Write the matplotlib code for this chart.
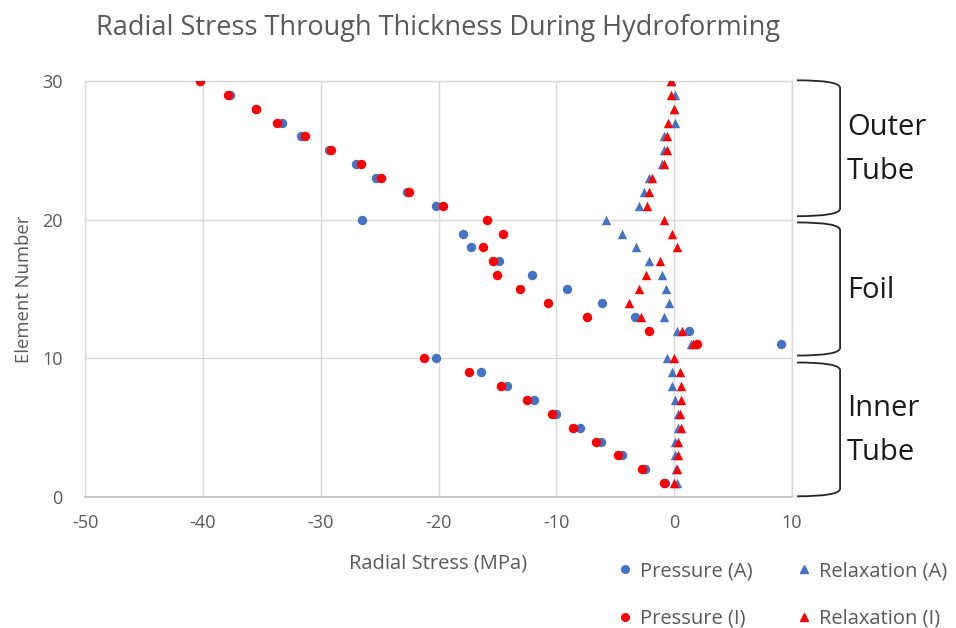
import matplotlib
matplotlib.use("Agg")
import matplotlib.pyplot as plt
import matplotlib.transforms as mtransforms
from matplotlib.path import Path
from matplotlib.patches import PathPatch
from matplotlib.lines import Line2D

plt.rcParams['font.family'] = ['Open Sans', 'DejaVu Sans']
plt.rcParams['axes.unicode_minus'] = False

# Element numbers through the wall thickness
elements = list(range(1, 31))

# Radial stress (MPa) at each element
pressure_a = [-0.8, -2.5, -4.4, -6.2, -8.0, -10.0, -11.9, -14.2, -16.4, -20.2,
              9.1, 1.3, -3.3, -6.1, -9.1, -12.1, -14.9, -17.2, -17.9, -26.5,
              -20.2, -22.7, -25.3, -27.0, -29.3, -31.7, -33.3, -35.5, -37.7, -40.2]
pressure_i = [-0.9, -2.7, -4.8, -6.6, -8.6, -10.4, -12.5, -14.7, -17.4, -21.2,
              1.9, -2.1, -7.4, -10.7, -13.1, -15.0, -15.4, -16.2, -14.5, -15.9,
              -19.6, -22.5, -24.9, -26.6, -29.1, -31.3, -33.7, -35.5, -37.9, -40.2]
relax_a = [0.2, 0.15, 0.05, 0.05, 0.35, 0.3, 0.05, -0.15, -0.15, -0.6,
           1.4, 0.2, -0.9, -0.45, -0.7, -1.0, -2.15, -3.25, -4.4, -5.8,
           -3.0, -2.6, -2.15, -1.0, -0.85, -0.9, 0.05, 0.0, 0.1, -0.3]
relax_i = [0.0, 0.2, 0.35, 0.3, 0.55, 0.5, 0.55, 0.55, 0.5, 0.0,
           1.6, 0.7, -2.85, -3.8, -3.0, -2.4, -1.2, 0.2, -0.2, -0.9,
           -2.3, -2.15, -1.9, -0.9, -0.6, -0.6, -0.5, 0.0, -0.3, -0.3]

# Layer extents (element ranges) and their labels
layers = [("Outer\nTube", 20.25, 30.05), ("Foil", 10.2, 19.8), ("Inner\nTube", 0.05, 9.7)]

x_ticks = [-50, -40, -30, -20, -10, 0, 10]
y_ticks = [0, 10, 20, 30]

BLUE = "#4472C4"
RED = "#FF0000"
GRAY = "#595959"
GRID = "#D9D9D9"

fig = plt.figure(figsize=(9.56, 6.28), dpi=100)
ax = fig.add_axes([85 / 956, 1 - 497 / 628, 707 / 956, 416 / 628])

ax.set_xlim(-50, 10)
ax.set_ylim(0, 30)
ax.set_xticks(x_ticks)
ax.set_yticks(y_ticks)
ax.grid(True, color=GRID, linewidth=1.0)
ax.set_axisbelow(True)
for side in ("left", "top", "right"):
    ax.spines[side].set_color(GRID)
    ax.spines[side].set_linewidth(1.0)
ax.spines["bottom"].set_color("#BFBFBF")
ax.spines["bottom"].set_linewidth(1.2)
ax.tick_params(axis="both", length=0, labelsize=13, colors=GRAY)
ax.tick_params(axis="x", pad=12)
ax.tick_params(axis="y", pad=16)

ms = 46
ax.scatter(pressure_a, elements, s=ms, marker="o", color=BLUE, linewidths=0, zorder=3)
ax.scatter(relax_a, elements, s=ms, marker="^", color=BLUE, linewidths=0, zorder=3)
ax.scatter(pressure_i, elements, s=ms, marker="o", color=RED, linewidths=0, zorder=3)
ax.scatter(relax_i, elements, s=ms, marker="^", color=RED, linewidths=0, zorder=3)

ax.set_xlabel("Radial Stress (MPa)", fontsize=14.5, color=GRAY, labelpad=16)
ax.set_ylabel("Element Number", fontsize=13.3, color=GRAY, labelpad=7)

fig.suptitle("Radial Stress Through Thickness During Hydroforming",
             x=438 / 956, y=1 - 28 / 628, va="center", fontsize=19.5, color=GRAY)

# Curly-bracket style markers to the right of the plot for each layer
trans = mtransforms.blended_transform_factory(ax.transAxes, ax.transData)
x0, x1 = 1.007, 1.068
r = 0.55
for label, lo, hi in layers:
    verts = [(x0, hi), (x1, hi), (x1, hi - r),
             (x1, lo + r),
             (x1, lo), (x0, lo)]
    codes = [Path.MOVETO, Path.CURVE3, Path.CURVE3,
             Path.LINETO,
             Path.CURVE3, Path.CURVE3]
    patch = PathPatch(Path(verts, codes), transform=trans, fill=False,
                      edgecolor="#262626", linewidth=1.3, clip_on=False)
    ax.add_patch(patch)
    ax.text(1.078, (lo + hi) / 2 - 0.1, label, transform=trans, ha="left", va="center",
            fontsize=21, color="#1A1A1A", linespacing=1.68)

# Legend below the plot
handles = [
    Line2D([], [], linestyle="none", marker="o", color=BLUE, markersize=5.5, label="Pressure (A)"),
    Line2D([], [], linestyle="none", marker="o", color=RED, markersize=5.5, label="Pressure (I)"),
    Line2D([], [], linestyle="none", marker="^", color=BLUE, markersize=5.5, label="Relaxation (A)"),
    Line2D([], [], linestyle="none", marker="^", color=RED, markersize=5.5, label="Relaxation (I)"),
]
leg = fig.legend(handles=handles, ncol=2, loc="upper left",
                 bbox_to_anchor=(611 / 956, 1 - 553 / 628), frameon=False,
                 fontsize=14.5, handlelength=0.6, handletextpad=0.45,
                 columnspacing=2.25, labelspacing=1.38, borderaxespad=0)
for t in leg.get_texts():
    t.set_color(GRAY)

fig.savefig("out.png", dpi=100)
